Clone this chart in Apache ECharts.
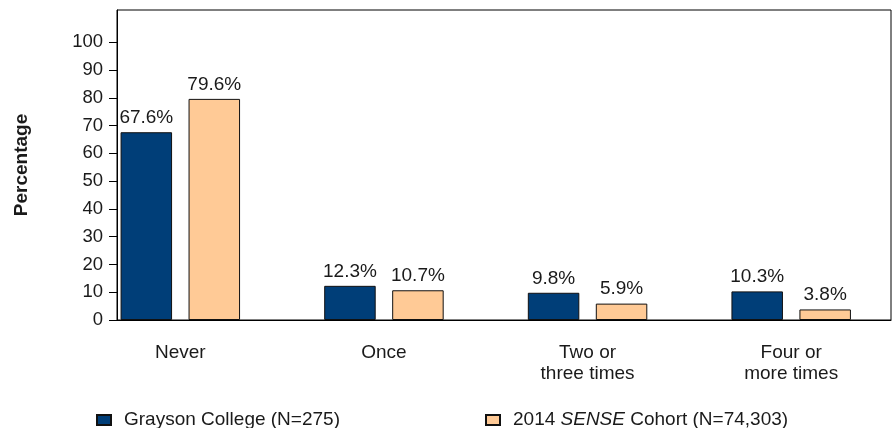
<!DOCTYPE html>
<html><head><meta charset="utf-8">
<script src="https://cdn.jsdelivr.net/npm/echarts@6/dist/echarts.min.js"></script>
<style>html,body{margin:0;padding:0;background:#fff}#c{width:893px;height:428px}</style>
</head><body><div id="c"></div>
<script>
const categories = ['Never', 'Once', 'Two or\nthree times', 'Four or\nmore times'];
const seriesNames = ['Grayson College (N=275)', '2014 SENSE Cohort (N=74,303)'];
const grayson = [67.6, 12.3, 9.8, 10.3];
const sense = [79.6, 10.7, 5.9, 3.8];
const yTicks = [0, 10, 20, 30, 40, 50, 60, 70, 80, 90, 100];
const yMax = 111.6;

const FONT = '"Liberation Sans", Arial, sans-serif';
const TXT = '#1a1a1a';
const FS = 18.5;
const FSL = 19;

const chart = echarts.init(document.getElementById('c'), null, {renderer: 'canvas'});
chart.setOption({
  animation: false,
  textStyle: {fontFamily: FONT, color: TXT},
  grid: [
    {left: 117, right: 2, top: 10, bottom: 108, show: true, borderColor: '#000', borderWidth: 1, backgroundColor: 'transparent'},
    {left: 78.5, width: 852, top: 10, bottom: 108}
  ],
  xAxis: [
    {gridIndex: 0, type: 'category', data: categories, axisLine: {show: true, lineStyle: {color: '#000'}}, axisTick: {show: false}, axisLabel: {show: false}, splitLine: {show: false}},
    {gridIndex: 1, type: 'category', data: categories, axisLine: {show: false}, axisTick: {show: false}, splitLine: {show: false},
     axisLabel: {margin: 22, fontSize: FSL, lineHeight: 21, color: TXT, fontFamily: FONT, interval: 0}}
  ],
  yAxis: [
    {gridIndex: 0, type: 'value', min: 0, max: yMax,
     axisLine: {show: true, lineStyle: {color: '#000'}},
     axisTick: {show: true, length: 8, lineStyle: {color: '#000'}, customValues: yTicks},
     axisLabel: {margin: 14, fontSize: FS, color: TXT, fontFamily: FONT, customValues: yTicks},
     splitLine: {show: false},
     name: 'Percentage', nameLocation: 'middle', nameRotate: 90, nameGap: 86,
     nameTextStyle: {fontWeight: 'bold', fontSize: 19, color: TXT, fontFamily: FONT}},
    {gridIndex: 1, type: 'value', min: 0, max: yMax, show: false, splitLine: {show: false}}
  ],
  legend: [
    {data: [seriesNames[0]], left: 91, top: 405.5, itemWidth: 14, itemHeight: 10, icon: 'rect',
     textStyle: {fontSize: FSL, color: TXT, fontFamily: FONT, padding: [0, 0, 0, 8]}},
    {data: [{name: seriesNames[1]}], left: 480, top: 405.5, itemWidth: 14, itemHeight: 10, icon: 'rect',
     formatter: () => '2014 {i|SENSE} Cohort (N=74,303)',
     textStyle: {fontSize: FSL, color: TXT, fontFamily: FONT, padding: [0, 0, 0, 8],
       rich: {i: {fontStyle: 'italic', fontSize: FSL, color: TXT, fontFamily: FONT}}}}
  ],
  series: [
    {name: seriesNames[0], type: 'bar', xAxisIndex: 1, yAxisIndex: 1, data: grayson, barWidth: 51.5, barGap: '32%',
     itemStyle: {color: '#003e78', borderColor: '#111', borderWidth: 1},
     label: {show: true, position: 'top', distance: 5, formatter: p => p.value.toFixed(1) + '%', fontSize: 19, color: TXT, fontFamily: FONT}},
    {name: seriesNames[1], type: 'bar', xAxisIndex: 1, yAxisIndex: 1, data: sense, barWidth: 51.5, barGap: '32%',
     itemStyle: {color: '#ffca96', borderColor: '#111', borderWidth: 1},
     label: {show: true, position: 'top', distance: 5, formatter: p => p.value.toFixed(1) + '%', fontSize: 19, color: TXT, fontFamily: FONT}}
  ]
});
</script></body></html>
